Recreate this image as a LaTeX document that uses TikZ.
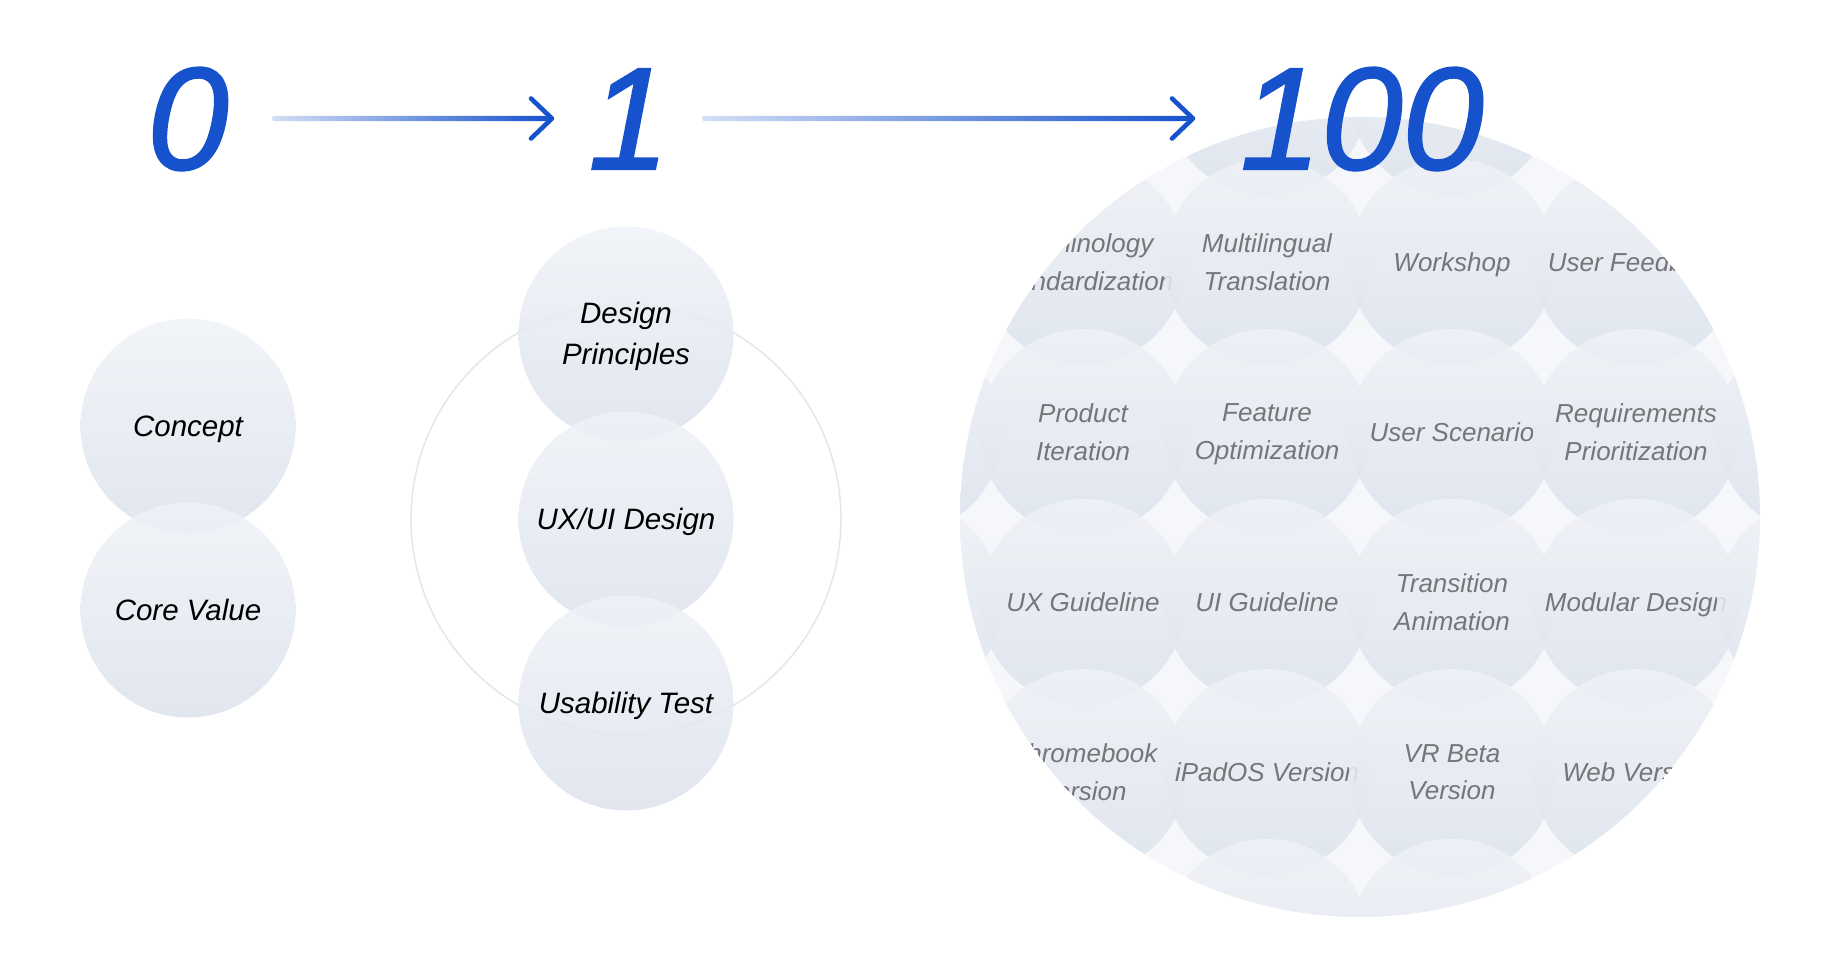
\documentclass[tikz,border=0pt]{standalone}
\usepackage{fontspec}
\setmainfont{Liberation Sans}
\newfontfamily\digitfont{Liberation Sans}[ItalicFeatures={FakeBold=1.3}]
\usetikzlibrary{calc}
\definecolor{digitblue}{RGB}{22,82,204}
\definecolor{arrowlight}{RGB}{212,223,246}
\definecolor{ctop}{RGB}{239,242,247}
\definecolor{cbot}{RGB}{221,227,237}
\definecolor{gridbg}{RGB}{246,247,250}
\definecolor{ringcol}{RGB}{226,230,239}
\definecolor{graytext}{RGB}{118,118,122}
\begin{document}
\begin{tikzpicture}[x=1pt,y=-1pt,
  bubble/.style={circle, inner sep=0pt, minimum size=215pt, top color=ctop, bottom color=cbot, fill opacity=0.88, text opacity=1, align=center, font=\fontsize{29.5}{41}\selectfont\itshape, text=black},
  cell/.style={circle, inner sep=0pt, minimum size=206pt, top color=ctop, bottom color=cbot, fill opacity=0.88, text opacity=1, align=center, font=\fontsize{26}{37.5}\selectfont\itshape, text=graytext},
  oneline/.style={text depth=0pt},
  digit/.style={font=\digitfont\fontsize{146}{146}\selectfont\itshape, text=digitblue, inner sep=0pt},
  arrowline/.style={left color=arrowlight, right color=digitblue},
  arrowhead/.style={draw=digitblue, line width=4.6pt, line cap=round, line join=round}
]
\useasboundingbox (0,0) rectangle (1840,958);

% ---- stage 0 ----
\node[bubble, oneline] (concept) at (188,426) {Concept};
\node[bubble, oneline] (core) at (188,610) {Core Value};

% ---- stage 1 ----
\node[circle, draw=ringcol, line width=1.5pt, minimum size=430pt, inner sep=0pt] (ring) at (626,519) {};
\node[bubble] (dp) at (626,334) {\rule{0pt}{26pt}Design\\Principles};
\node[bubble, oneline] (ux) at (626,519) {UX/UI Design};
\node[bubble, oneline] (ut) at (626,703) {Usability Test};

% ---- stage 100 ----
\begin{scope}
\clip (1360,517) circle (400);
\fill[gridbg] (1360,517) circle (400);
% row 0
\foreach \x in {899,1083,1267,1452,1636,1820} \node[cell] at (\x,92) {};
% row 1
\node[cell] (e10) at (899,262) {};
\node[cell] (t11) at (1083,262) {Terminology\\Standardization};
\node[cell] (t12) at (1267,262) {Multilingual\\Translation};
\node[cell, oneline] (t13) at (1452,262) {Workshop};
\node[cell, oneline] (t14) at (1636,262) {User Feedback};
\node[cell] (e15) at (1820,262) {};
% row 2
\node[cell] (e20) at (899,432) {};
\node[cell] (t21) at (1083,432) {Product\\Iteration};
\node[cell] (t22) at (1267,432) {\rule{0pt}{22pt}Feature\\Optimization};
\node[cell, oneline] (t23) at (1452,432) {User Scenario};
\node[cell] (t24) at (1636,432) {Requirements\\Prioritization};
\node[cell] (e25) at (1820,432) {};
% row 3
\node[cell] (e30) at (899,602) {};
\node[cell, oneline] (t31) at (1083,602) {UX Guideline};
\node[cell, oneline] (t32) at (1267,602) {UI Guideline};
\node[cell] (t33) at (1452,602) {Transition\\Animation};
\node[cell, oneline] (t34) at (1636,602) {Modular Design};
\node[cell] (e35) at (1820,602) {};
% row 4
\node[cell] (e40) at (899,772) {};
\node[cell] (t41) at (1083,772) {Chromebook\\Version};
\node[cell, oneline] (t42) at (1267,772) {iPadOS Version};
\node[cell] (t43) at (1452,772) {VR Beta\\Version};
\node[cell, oneline] (t44) at (1636,772) {Web Version};
\node[cell] (e45) at (1820,772) {};
% row 5
\foreach \x in {899,1083,1267,1452,1636,1820} \node[cell] at (\x,942) {};
\end{scope}

% ---- digits ----
\node[digit] (d0) at (188,119) {0};
\node[digit] (d1) at (629,119) {1};
\node[digit] (d100) at (1362,119) {100};

% ---- arrows ----
\coordinate (a1s) at (272,118.5);
\coordinate (a1e) at (552,118.5);
\coordinate (a2s) at (702,118.5);
\coordinate (a2e) at (1193,118.5);
\shade[arrowline, rounded corners=2.5pt] ($(a1s)+(0,-2.7)$) rectangle ($(a1e)+(-2,2.7)$);
\draw[arrowhead] ($(a1e)+(-21,-20)$) -- (a1e) -- ($(a1e)+(-21,20)$);
\shade[arrowline, rounded corners=2.5pt] ($(a2s)+(0,-2.7)$) rectangle ($(a2e)+(-2,2.7)$);
\draw[arrowhead] ($(a2e)+(-21,-20)$) -- (a2e) -- ($(a2e)+(-21,20)$);
\end{tikzpicture}
\end{document}
